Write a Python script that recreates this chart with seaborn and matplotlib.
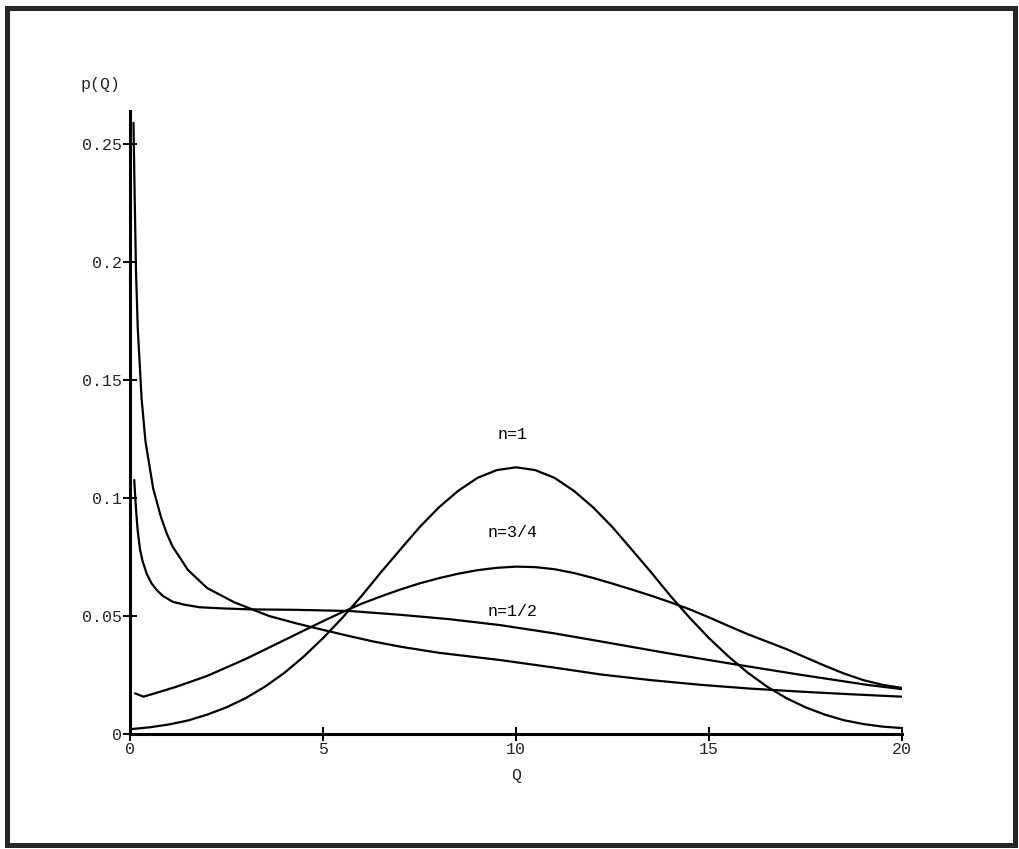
import matplotlib
matplotlib.use('Agg')
import matplotlib.pyplot as plt
import seaborn as sns
import pandas as pd

# valores
Q_n1 = [0.0, 0.5, 1.0, 1.5, 2.0, 2.5, 3.0, 3.5, 4.0, 4.5, 5.0, 5.5, 6.0, 6.5, 7.0, 7.5, 8.0, 8.5, 9.0, 9.5, 10.0,
        10.5, 11.0, 11.5, 12.0, 12.5, 13.0, 13.5, 14.0, 14.5, 15.0, 15.5, 16.0, 16.5, 17.0, 17.5, 18.0, 18.5, 19.0, 19.5, 20.0]
p_n1 = [0.002, 0.0028, 0.004, 0.0057, 0.0082, 0.0113, 0.0152, 0.0201, 0.0259, 0.0328, 0.0406, 0.0492, 0.0585, 0.0685,
        0.0781, 0.0876, 0.096, 0.103, 0.1085, 0.1118, 0.113, 0.1118, 0.1085, 0.103, 0.096, 0.0876, 0.0781, 0.0685,
        0.0585, 0.0492, 0.0406, 0.0329, 0.026, 0.0201, 0.0152, 0.0113, 0.0082, 0.0058, 0.0042, 0.0031, 0.0025]

Q_n34 = [0.13, 0.35, 0.7, 1.2, 2.0, 3.0, 4.0, 5.0, 5.5, 6.0, 6.5, 7.0, 7.5, 8.0, 8.5, 9.0, 9.5, 10.0, 10.5, 11.0, 11.5,
         12.0, 12.5, 13.0, 13.5, 14.0, 14.5, 15.0, 15.5, 16.0, 17.0, 18.0, 18.5, 19.0, 19.5, 20.0]
p_n34 = [0.0172, 0.0158, 0.0175, 0.020, 0.0246, 0.0318, 0.0398, 0.0478, 0.0516, 0.0552, 0.0583, 0.0612, 0.0638, 0.066,
         0.0679, 0.0694, 0.0704, 0.0709, 0.0707, 0.0698, 0.0682, 0.0661, 0.0637, 0.0612, 0.0586, 0.0558, 0.0528,
         0.0494, 0.0458, 0.0423, 0.036, 0.0289, 0.0256, 0.0228, 0.0208, 0.0195]

Q_n12 = [0.11, 0.14, 0.17, 0.2, 0.26, 0.33, 0.43, 0.55, 0.69, 0.85, 1.11, 1.4, 1.8, 2.4, 3.1, 4.3, 5.7, 7.0, 8.3, 9.6,
         11.0, 12.2, 13.9, 15.6, 17.4, 19.1, 20.0]
p_n12 = [0.1076, 0.099, 0.092, 0.086, 0.078, 0.073, 0.068, 0.064, 0.061, 0.0585, 0.056, 0.0548, 0.0537, 0.0532, 0.0528,
         0.0526, 0.0521, 0.0505, 0.0486, 0.0461, 0.0426, 0.0392, 0.0343, 0.0297, 0.025, 0.0208, 0.019]

Q_n14 = [0.09, 0.12, 0.155, 0.2, 0.3, 0.4, 0.52, 0.6, 0.8, 0.95, 1.1, 1.5, 2.0, 2.7, 3.6, 4.3, 5.0, 5.7, 6.3, 7.0, 8.0,
         9.6, 11.0, 12.2, 13.5, 14.8, 16.0, 17.4, 18.7, 20.0]
p_n14 = [0.259, 0.228, 0.196, 0.172, 0.142, 0.124, 0.112, 0.104, 0.092, 0.085, 0.0795, 0.0695, 0.0618, 0.0558, 0.050,
         0.0469, 0.0441, 0.0414, 0.0392, 0.037, 0.0344, 0.0313, 0.0281, 0.0252, 0.0228, 0.0208, 0.0193, 0.0179,
         0.0168, 0.0158]

etiquetas = ['n=1', 'n=3/4', 'n=1/2']
pos_etiquetas = [(9.9, 0.1267), (9.9, 0.0852), (9.9, 0.0517)]

xticks = [0, 5, 10, 15, 20]
yticks = [0, 0.05, 0.1, 0.15, 0.2, 0.25]
ytick_labels = ['0', '0.05', '0.1', '0.15', '0.2', '0.25']

sns.set_style('white')
plt.rcParams['font.family'] = ['Liberation Mono', 'DejaVu Sans Mono']

fig = plt.figure(figsize=(10.19, 8.49), dpi=100)
ax = fig.add_axes([0.1276, 0.1355, 0.7576, 0.7338])

curvas = [(Q_n1, p_n1), (Q_n34, p_n34), (Q_n12, p_n12), (Q_n14, p_n14)]
for q, p in curvas:
    datos = pd.DataFrame({'Q': q, 'p': p})
    sns.lineplot(data=datos, x='Q', y='p', color='black', linewidth=1.6, sort=False, ax=ax)

for texto, (x, y) in zip(etiquetas, pos_etiquetas):
    ax.text(x, y, texto, ha='center', va='center', fontsize=12, color='black')

ax.set_xlim(0, 20)
ax.set_ylim(0, 0.264)
ax.set_xticks(xticks)
ax.set_xticklabels([str(t) for t in xticks])
ax.set_yticks(yticks)
ax.set_yticklabels(ytick_labels)
ax.tick_params(bottom=True, left=True, direction='inout', length=10, width=1.4, color='black',
               labelsize=12, pad=1)

for lado in ['top', 'right']:
    ax.spines[lado].set_visible(False)
for lado in ['left', 'bottom']:
    ax.spines[lado].set_linewidth(2.2)
    ax.spines[lado].set_color('black')

ax.set_xlabel('Q', fontsize=12)
ax.set_ylabel('p(Q)', fontsize=12, rotation=0, ha='center', va='center')
ax.xaxis.set_label_coords(0.5, -0.055)
ax.yaxis.set_label_coords(-0.0376, 1.0417)

# marco exterior
marco = plt.Rectangle((7 / 1019, 4 / 849), 1008 / 1019, 837 / 849, transform=fig.transFigure,
                      fill=False, edgecolor='#262626', linewidth=3.6)
fig.add_artist(marco)

fig.savefig('out.png', dpi=100)
